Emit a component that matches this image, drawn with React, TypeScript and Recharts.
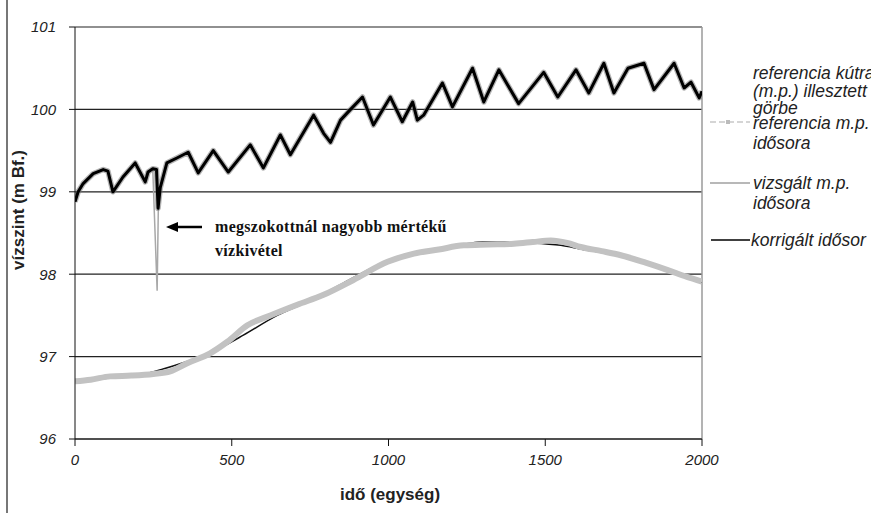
import React from "react";
import {
  LineChart,
  Line,
  XAxis,
  YAxis,
  CartesianGrid,
  ReferenceLine,
} from "recharts";

// korrigált idősor (corrected series) – sawtooth vertices
const korrigaltX = [
  0, 10, 26, 58, 90, 105, 121, 153, 192, 224, 233, 248, 260, 265, 272, 293,
  325, 361, 393, 441, 489, 559, 601, 655, 687, 761, 793, 815, 847, 879, 917,
  952, 1006, 1044, 1077, 1092, 1112, 1172, 1204, 1268, 1304, 1352, 1415, 1495,
  1540, 1598, 1639, 1687, 1719, 1764, 1815, 1847, 1911, 1943, 1965, 1991, 2000,
];
const korrigaltY = [
  98.88, 99.0, 99.1, 99.22, 99.27, 99.25, 99.0, 99.18, 99.35, 99.12, 99.24,
  99.28, 99.27, 98.8, 99.05, 99.35, 99.41, 99.48, 99.23, 99.5, 99.24, 99.57,
  99.29, 99.69, 99.45, 99.93, 99.71, 99.6, 99.87, 100.0, 100.15, 99.81, 100.15,
  99.85, 100.09, 99.87, 99.93, 100.32, 100.03, 100.5, 100.09, 100.48, 100.07,
  100.45, 100.15, 100.48, 100.2, 100.56, 100.2, 100.5, 100.56, 100.24, 100.56,
  100.26, 100.33, 100.14, 100.22,
];

// vizsgált m.p. idősora – same as above except the abstraction dip
const dipX = [248, 262, 266];
const dipY = [99.28, 97.8, 98.85];

// referencia m.p. idősora
const referenciaX = [
  0, 50, 112, 180, 250, 304, 358, 431, 486, 550, 623, 709, 793, 888, 997, 1081,
  1160, 1240, 1320, 1400, 1460, 1518, 1570, 1613, 1680, 1741, 1820, 1891, 1950,
  2000,
];
const referenciaY = [
  96.7, 96.72, 96.76, 96.77, 96.79, 96.82, 96.92, 97.04, 97.18, 97.38, 97.5,
  97.63, 97.75, 97.93, 98.15, 98.25, 98.3, 98.35, 98.36, 98.37, 98.39, 98.41,
  98.38, 98.33, 98.28, 98.23, 98.14, 98.05, 97.97, 97.91,
];

// referencia kútra (m.p.) illesztett görbe
const illesztettX = [
  0, 112, 200, 281, 340, 399, 470, 537, 645, 750, 850, 950, 1050, 1150, 1250,
  1300, 1380, 1460, 1550, 1620, 1700, 1800, 1900, 2000,
];
const illesztettY = [
  96.7, 96.74, 96.77, 96.85, 96.92, 97.0, 97.12, 97.26, 97.5, 97.68, 97.88,
  98.08, 98.22, 98.31, 98.37, 98.39, 98.39, 98.38, 98.35, 98.3, 98.25, 98.15,
  98.03, 97.9,
];

const xTicks = [0, 500, 1000, 1500, 2000];
const yTicks = [96, 97, 98, 99, 100, 101];

const zip = (xs: number[], ys: number[]) =>
  xs.map((x, i) => ({ x, y: ys[i] }));

const korrigalt = zip(korrigaltX, korrigaltY);
const vizsgalt = [
  ...korrigalt.filter((p) => p.x < dipX[0]),
  ...zip(dipX, dipY),
  ...korrigalt.filter((p) => p.x > dipX[dipX.length - 1]),
];
const referencia = zip(referenciaX, referenciaY);
const illesztett = zip(illesztettX, illesztettY);

const sans = "'Liberation Sans', Arial, sans-serif";
const serif = "'Liberation Serif', 'Times New Roman', serif";

export default function App() {
  return (
    <div
      style={{
        position: "absolute",
        left: 0,
        top: 0,
        width: 871,
        height: 513,
        background: "#fff",
        overflow: "hidden",
        fontFamily: sans,
      }}
    >
      <LineChart
        width={871}
        height={513}
        margin={{ top: 27, right: 169, bottom: 0, left: 0 }}
      >
        <CartesianGrid stroke="#222" strokeWidth={1.2} vertical={false} />
        <XAxis
          type="number"
          dataKey="x"
          domain={[0, 2000]}
          ticks={xTicks}
          allowDataOverflow
          height={74}
          tickSize={7}
          tickMargin={8}
          stroke="#111"
          tick={{ fontSize: 15, fill: "#222", fontStyle: "italic", fontFamily: sans }}
        />
        <YAxis
          type="number"
          domain={[96, 101]}
          ticks={yTicks}
          allowDataOverflow
          width={75}
          tickSize={6}
          tickMargin={13}
          stroke="#111"
          tick={{ fontSize: 15, fill: "#222", fontStyle: "italic", fontFamily: sans }}
        />
        <ReferenceLine x={2000} stroke="#9a9a9a" strokeWidth={1.5} />
        <Line
          data={illesztett}
          dataKey="y"
          type="monotone"
          stroke="#111"
          strokeWidth={1.5}
          dot={false}
          isAnimationActive={false}
        />
        <Line
          data={referencia}
          dataKey="y"
          type="monotone"
          stroke="#c2c2c2"
          strokeWidth={6}
          dot={false}
          isAnimationActive={false}
        />
        <Line
          data={vizsgalt}
          dataKey="y"
          type="linear"
          stroke="#a8a8a8"
          strokeWidth={1.5}
          dot={false}
          isAnimationActive={false}
        />
        {/* soft halo under the corrected series to mimic its noisy thick trace */}
        <Line
          data={korrigalt}
          dataKey="y"
          type="linear"
          stroke="#777"
          strokeOpacity={0.55}
          strokeWidth={5.5}
          strokeLinejoin="round"
          dot={false}
          isAnimationActive={false}
        />
        <Line
          data={korrigalt}
          dataKey="y"
          type="linear"
          stroke="#000"
          strokeWidth={3}
          strokeLinejoin="round"
          dot={false}
          isAnimationActive={false}
        />
      </LineChart>

      <svg
        width={871}
        height={513}
        style={{ position: "absolute", left: 0, top: 0, pointerEvents: "none" }}
      >
        {/* page border on the left */}
        <line x1={7} y1={0} x2={7} y2={513} stroke="#777" strokeWidth={2} />

        {/* axis titles */}
        <text
          x={390}
          y={500}
          textAnchor="middle"
          fontSize={17}
          fontWeight="bold"
          fill="#222"
          fontFamily={sans}
        >
          idő (egység)
        </text>
        <text
          x={24}
          y={210}
          textAnchor="middle"
          fontSize={17}
          fontWeight="bold"
          fill="#222"
          fontFamily={sans}
          transform="rotate(-90 24 210)"
        >
          vízszint (m Bf.)
        </text>

        {/* annotation */}
        <line x1={202} y1={227} x2={176} y2={227} stroke="#000" strokeWidth={2.5} />
        <polygon points="166,227 178,222 178,232" fill="#000" />
        <text x={215} y={232} fontSize={16} fontWeight="bold" fontFamily={serif} fill="#111" letterSpacing={0.3}>
          megszokottnál nagyobb mértékű
        </text>
        <text x={215} y={256} fontSize={16} fontWeight="bold" fontFamily={serif} fill="#111" letterSpacing={0.3}>
          vízkivétel
        </text>

        {/* legend */}
        <g fontFamily={sans} fontStyle="italic" fontSize={17.5} fill="#222">
          <text x={753} y={79}>referencia kútra</text>
          <text x={753} y={97}>(m.p.)  illesztett</text>
          <text x={753} y={114}>görbe</text>

          <line x1={710} y1={122} x2={750} y2={122} stroke="#c8c8c8" strokeWidth={1.5} strokeDasharray="6 3" />
          <rect x={726} y={120} width={4} height={4} fill="#bbb" />
          <text x={753} y={129}>referencia m.p.</text>
          <text x={753} y={149}>idősora</text>

          <line x1={710} y1={183} x2={750} y2={183} stroke="#a0a0a0" strokeWidth={1.5} />
          <text x={753} y={189}>vizsgált m.p.</text>
          <text x={753} y={209}>idősora</text>

          <line x1={711} y1={240} x2={750} y2={240} stroke="#000" strokeWidth={1.5} />
          <text x={751} y={246}>korrigált idősor</text>
        </g>
      </svg>
    </div>
  );
}
